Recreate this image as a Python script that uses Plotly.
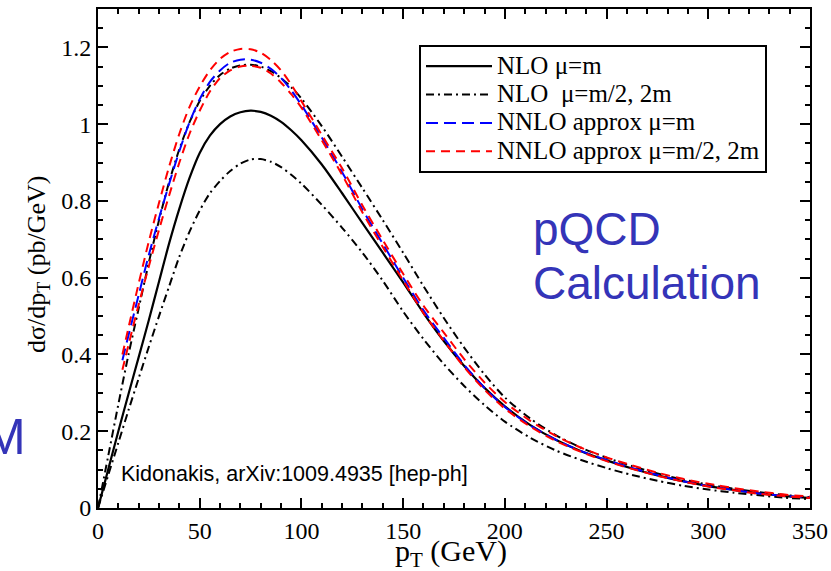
import plotly.graph_objects as go

# ---------------- data ----------------
pt_nlo = [0, 5, 10, 15, 20, 25, 30, 35, 40, 45, 50, 55, 60, 65, 70, 75, 80, 85, 90, 95, 100,
          110, 120, 130, 140, 150, 160, 170, 180, 190, 200,
          212.5, 225, 237.5, 250, 262.5, 275, 287.5, 300, 312.5, 325, 337.5, 350]

nlo_m = [0, 0.10, 0.20, 0.297, 0.393, 0.49, 0.59, 0.69, 0.78, 0.86, 0.925, 0.97, 1.0, 1.02, 1.031, 1.035,
         1.032, 1.022, 1.006, 0.984, 0.958,
         0.895, 0.82, 0.742, 0.665, 0.588, 0.508, 0.435, 0.37, 0.313, 0.265,
         0.216, 0.178, 0.148, 0.124, 0.103, 0.085, 0.07, 0.057, 0.047, 0.038, 0.031, 0.026]

nlo_half = [0, 0.135, 0.27, 0.40, 0.52, 0.64, 0.75, 0.85, 0.935, 1.005, 1.06, 1.10, 1.128, 1.145, 1.153, 1.155,
            1.15, 1.138, 1.12, 1.096, 1.067,
            0.995, 0.915, 0.833, 0.75, 0.665, 0.578, 0.495, 0.418, 0.348, 0.288,
            0.233, 0.19, 0.157, 0.131, 0.109, 0.09, 0.074, 0.061, 0.05, 0.041, 0.034, 0.028]

nlo_two = [0, 0.085, 0.17, 0.255, 0.338, 0.42, 0.50, 0.578, 0.655, 0.72, 0.775, 0.82, 0.852, 0.878, 0.897, 0.908,
           0.909, 0.902, 0.888, 0.868, 0.845,
           0.79, 0.73, 0.665, 0.592, 0.512, 0.44, 0.375, 0.318, 0.268, 0.225,
           0.183, 0.15, 0.125, 0.104, 0.086, 0.071, 0.058, 0.048, 0.04, 0.033, 0.027, 0.023]

pt_nnlo = [12, 15, 20, 25, 30, 35, 40, 45, 50, 55, 60, 65, 70, 75, 80, 85, 90, 95, 100,
           110, 120, 130, 140, 150, 160, 170, 180, 190, 200,
           212.5, 225, 237.5, 250, 262.5, 275, 287.5, 300, 312.5, 325, 337.5, 350]

nnlo_m = [0.385, 0.45, 0.555, 0.66, 0.755, 0.845, 0.93, 1.005, 1.065, 1.11, 1.14, 1.16, 1.168, 1.168,
          1.16, 1.144, 1.12, 1.088, 1.05,
          0.965, 0.875, 0.778, 0.688, 0.60, 0.515, 0.443, 0.373, 0.313, 0.263,
          0.215, 0.178, 0.148, 0.125, 0.104, 0.086, 0.07, 0.057, 0.047, 0.038, 0.032, 0.027]

nnlo_half = [0.40, 0.47, 0.585, 0.695, 0.795, 0.89, 0.975, 1.045, 1.098, 1.14, 1.17, 1.188, 1.196, 1.195,
             1.186, 1.167, 1.14, 1.103, 1.06,
             0.972, 0.885, 0.788, 0.698, 0.61, 0.527, 0.457, 0.388, 0.327, 0.276,
             0.227, 0.188, 0.157, 0.132, 0.111, 0.092, 0.076, 0.063, 0.052, 0.043, 0.035, 0.030]

nnlo_two = [0.36, 0.425, 0.53, 0.63, 0.725, 0.815, 0.90, 0.975, 1.035, 1.085, 1.12, 1.14, 1.15, 1.152,
            1.147, 1.132, 1.108, 1.078, 1.043,
            0.958, 0.868, 0.77, 0.68, 0.593, 0.508, 0.436, 0.367, 0.308, 0.259,
            0.212, 0.175, 0.146, 0.122, 0.102, 0.084, 0.069, 0.056, 0.046, 0.037, 0.031, 0.026]

x_ticks = [0, 50, 100, 150, 200, 250, 300, 350]
y_ticks = [0, 0.2, 0.4, 0.6, 0.8, 1.0, 1.2]
y_tick_text = ["0", "0.2", "0.4", "0.6", "0.8", "1", "1.2"]

legend_names = ["NLO μ=m", "NLO&nbsp; μ=m/2, 2m", "NNLO approx μ=m", "NNLO approx μ=m/2, 2m"]

# ---------------- figure ----------------
SERIF = "Liberation Serif, Times New Roman, serif"
SANS = "Liberation Sans, Arial, sans-serif"
DD = "8px,4px,2px,4px"
SMOOTH = dict(shape="spline", smoothing=0.8)

def big(s):
    return '<span style="font-size:25px">' + s + '</span>'

L, R, T, B = 98, 21, 9, 63
W, H = 831, 571
PW, PH = W - L - R, H - T - B

def px(xp):
    return (xp - L) / PW

def py(yp):
    return (H - B - yp) / PH

fig = go.Figure()
fig.add_trace(go.Scatter(x=pt_nlo, y=nlo_m, mode="lines", name=big(legend_names[0]),
                         line=dict(color="black", width=2.2, **SMOOTH)))
fig.add_trace(go.Scatter(x=pt_nlo, y=nlo_half, mode="lines", name=big(legend_names[1]),
                         legendgroup="nlo_var",
                         line=dict(color="black", width=2, dash=DD, **SMOOTH)))
fig.add_trace(go.Scatter(x=pt_nlo, y=nlo_two, mode="lines", name="NLO μ=2m", showlegend=False,
                         legendgroup="nlo_var",
                         line=dict(color="black", width=2, dash=DD, **SMOOTH)))
fig.add_trace(go.Scatter(x=pt_nnlo, y=nnlo_m, mode="lines", name=big(legend_names[2]),
                         line=dict(color="#0000ff", width=2, dash="12px,6px", **SMOOTH)))
fig.add_trace(go.Scatter(x=pt_nnlo, y=nnlo_half, mode="lines", name=big(legend_names[3]),
                         legendgroup="nnlo_var",
                         line=dict(color="#ff0000", width=2, dash="9px,6px", **SMOOTH)))
fig.add_trace(go.Scatter(x=pt_nnlo, y=nnlo_two, mode="lines", name="NNLO approx μ=2m", showlegend=False,
                         legendgroup="nnlo_var",
                         line=dict(color="#ff0000", width=2, dash="9px,6px", **SMOOTH)))

axis_common = dict(showgrid=False, zeroline=False, showline=True, linecolor="black", linewidth=2,
                   mirror="allticks", ticks="inside", ticklen=10, tickwidth=2, tickcolor="black",
                   automargin=False,
                   tickfont=dict(family=SERIF, size=24, color="black"))

fig.update_xaxes(range=[0, 350], tickvals=x_ticks, ticktext=[str(v) for v in x_ticks],
                 minor=dict(ticks="inside", ticklen=5, tickwidth=2, tickcolor="black", dtick=10, tick0=0),
                 **axis_common)
fig.update_yaxes(range=[0, 1.3], tickvals=y_ticks, ticktext=y_tick_text,
                 minor=dict(ticks="inside", ticklen=5, tickwidth=2, tickcolor="black", dtick=0.05, tick0=0),
                 **axis_common)

# axis titles
fig.add_annotation(text="p<sub>T</sub> (GeV)", xref="paper", yref="paper", x=px(451), y=py(553),
                   xanchor="center", yanchor="middle", showarrow=False,
                   font=dict(family=SERIF, size=30, color="black"))
fig.add_annotation(text="dσ/dp<sub>T</sub> (pb/GeV)", xref="paper", yref="paper", x=px(38), y=py(264),
                   xanchor="center", yanchor="middle", showarrow=False, textangle=-90,
                   font=dict(family=SERIF, size=26, color="black"))

BLUE_TXT = "#3434b8"
fig.add_annotation(text="pQCD", xref="paper", yref="paper", x=px(531), y=py(229),
                   xanchor="left", yanchor="middle", showarrow=False,
                   font=dict(family=SANS, size=46, color=BLUE_TXT))
fig.add_annotation(text="Calculation", xref="paper", yref="paper", x=px(531), y=py(283),
                   xanchor="left", yanchor="middle", showarrow=False,
                   font=dict(family=SANS, size=46, color=BLUE_TXT))
fig.add_annotation(text="M", xref="paper", yref="paper", x=px(-18), y=py(437),
                   xanchor="left", yanchor="middle", showarrow=False,
                   font=dict(family=SANS, size=50, color=BLUE_TXT))
fig.add_annotation(text="Kidonakis, arXiv:1009.4935 [hep-ph]", xref="paper", yref="paper",
                   x=px(119), y=py(474),
                   xanchor="left", yanchor="middle", showarrow=False,
                   font=dict(family=SANS, size=21.5, color="black"))

fig.update_layout(
    width=W, height=H,
    margin=dict(l=L, r=R, t=T, b=B, autoexpand=False),
    paper_bgcolor="white", plot_bgcolor="white",
    showlegend=True,
    legend=dict(x=px(419), y=py(45), xanchor="left", yanchor="top",
                bgcolor="white", bordercolor="black", borderwidth=2,
                font=dict(family=SERIF, size=19.5, color="black"),
                tracegroupgap=0, itemwidth=66),
)

fig.write_html("out.html", config={"displayModeBar": False},
               post_script="document.body.style.margin='0px';")
